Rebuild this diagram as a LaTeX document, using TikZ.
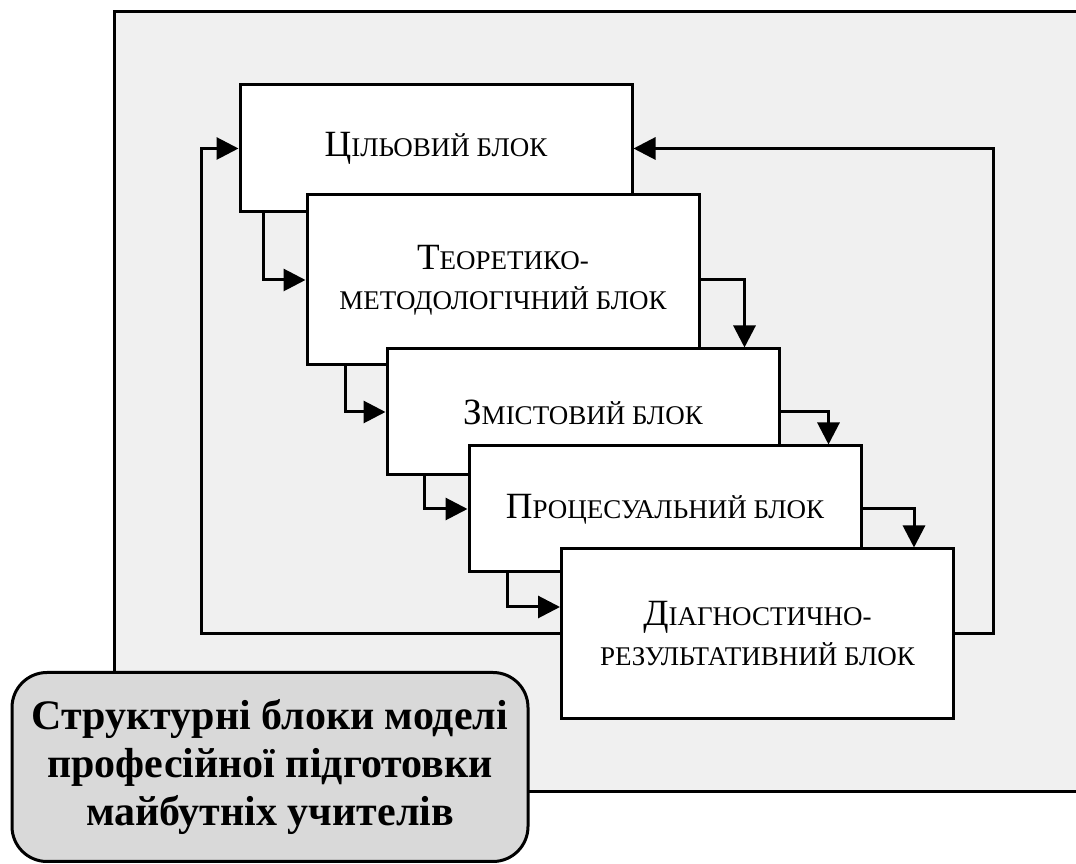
\documentclass[tikz,border=0pt]{standalone}
\usepackage{fontspec}
\setmainfont{Liberation Serif}
\usetikzlibrary{arrows.meta}

\definecolor{bggray}{HTML}{F0F0F0}
\definecolor{titlegray}{HTML}{D9D9D9}
\newcommand{\blk}[2]{{\fontsize{37}{40}\selectfont #1}#2}

\begin{document}
\begin{tikzpicture}[x=1pt,y=1pt,
    block/.style={draw,line width=3pt,fill=white,minimum width=392pt,
      align=center,inner sep=0pt,font=\fontsize{27}{40}\selectfont},
    arr/.style={line width=3pt,-{Triangle[length=22pt,width=22pt]}}]
  \useasboundingbox (0,0) rectangle (1076,864);
  \fill[bggray] (114,72) rectangle (1076,852);
  \draw[line width=3pt] (1076,852) -- (114,852) -- (114,72) -- (1076,72);
  % blocks
  \node[block,minimum height=127pt] (b1) at (436,715.5) {\blk{Ц}{ІЛЬОВИЙ БЛОК}};
  \node[block,minimum height=170pt] (b2) at (503,584) {\blk{Т}{ЕОРЕТИКО-}\\МЕТОДОЛОГІЧНИЙ БЛОК};
  \node[block,minimum height=126pt] (b3) at (583,452) {\blk{З}{МІСТОВИЙ БЛОК}};
  \node[block,minimum height=126pt] (b4) at (665,355) {\blk{П}{РОЦЕСУАЛЬНИЙ БЛОК}};
  \node[block,minimum height=170pt] (b5) at (757.5,230) {\blk{Д}{ІАГНОСТИЧНО-}\\РЕЗУЛЬТАТИВНИЙ БЛОК};
  % arrows between blocks
  \draw[arr] ([xshift=25pt]b1.south west) |- (b2.west);
  \draw[arr] ([xshift=40pt]b2.south west) |- (b3.west);
  \draw[arr] ([xshift=39pt]b3.south west) |- (b4.west);
  \draw[arr] ([xshift=40pt]b4.south west) |- ([yshift=27pt]b5.west);
  \draw[arr] (b2.east) -| ([xshift=-36pt]b3.north east);
  \draw[arr] (b3.east) -| ([xshift=-34pt]b4.north east);
  \draw[arr] (b4.east) -| ([xshift=-41pt]b5.north east);
  % feedback
  \draw[arr] (b5.west) -| ([xshift=-37pt]b1.west) -- (b1.west);
  \draw[arr] (b5.east) -| ([xshift=360pt]b1.east) -- (b1.east);
  % title
  \node[draw,line width=3pt,fill=titlegray,rounded corners=35pt,
    minimum width=516pt,minimum height=189pt,align=center,
    font=\bfseries\fontsize{42}{48}\selectfont] (title) at (270,97)
    {Структурні блоки моделі\\професійної підготовки\\майбутніх учителів};
\end{tikzpicture}
\end{document}
